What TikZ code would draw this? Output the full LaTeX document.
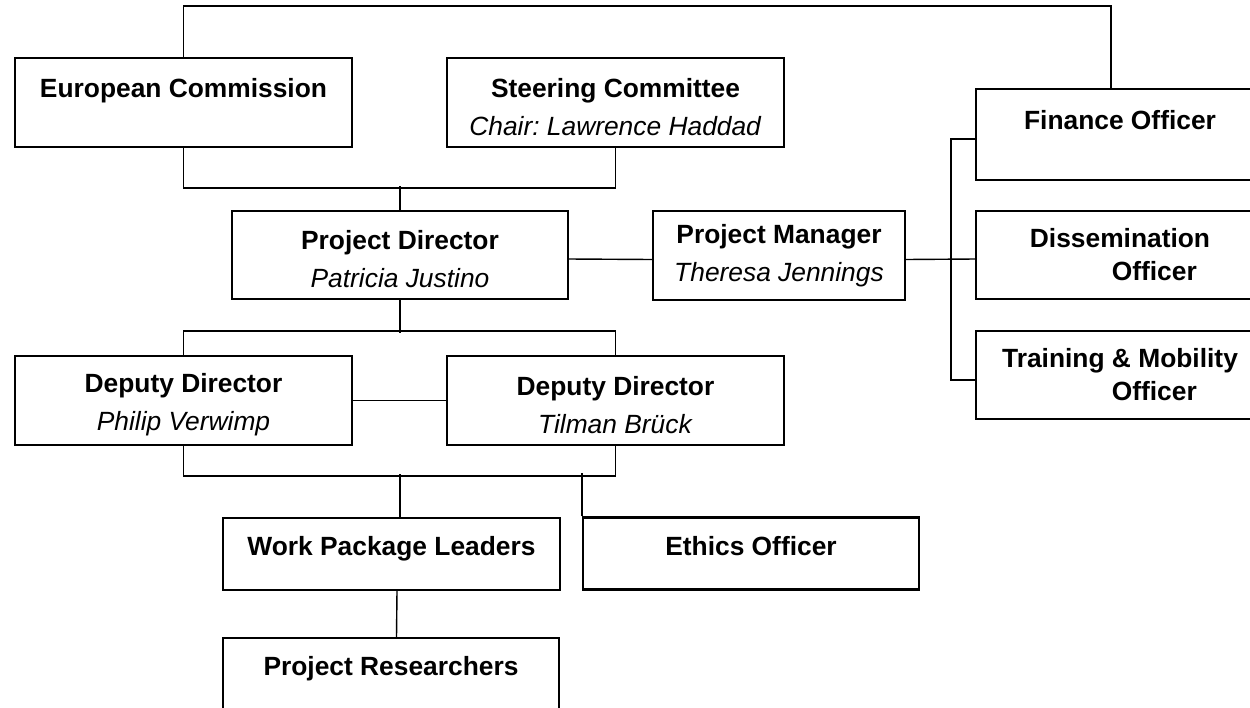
\documentclass[tikz,border=0pt]{standalone}
\usepackage{fontspec}
\setmainfont{Liberation Sans}
\usepackage{tikz}
\definecolor{ink}{HTML}{000000}
\usetikzlibrary{positioning,calc}
\newcommand{\rolename}[1]{\textbf{#1}}
\newcommand{\person}[1]{\textit{#1}}
\newcommand{\padtop}{\rule{0pt}{16pt}}
\tikzset{
  every picture/.style={line join=miter},
  every node/.style={font=\fontsize{15}{21.6}\selectfont\frenchspacing, text=ink},
  orgbox/.style={
    draw=ink,
    fill=white,
    line width=1.2pt,
    align=center,
    minimum width=6.74cm,
    minimum height=1.78cm,
    inner sep=2pt
  },
  orgboxlow/.style={orgbox, minimum height=1.44cm, text height=11pt, text depth=9.3pt},
  sidebox/.style={orgbox, minimum width=5.76cm, font=\fontsize{15}{18.7}\selectfont\frenchspacing},
  link/.style={draw=ink, line width=0.8pt}
}
\begin{document}
\begin{tikzpicture}
  \useasboundingbox (0,0) rectangle (25,-14.14);

  % top level
  \node[orgbox] (ec) at (3.67,-2.05) {\padtop\rolename{European Commission}\\\phantom{X}};
  \node[orgbox] (sc) at (12.31,-2.05) {\padtop\rolename{Steering Committee}\\\person{Chair: Lawrence Haddad}};

  % direction and management
  \node[orgbox, minimum width=6.72cm, minimum height=1.76cm] (pd) at (8.0,-5.1) {\padtop\rolename{Project Director}\\\person{Patricia Justino}};
  \node[orgbox, minimum width=5.04cm] (pm) at (15.58,-5.11) {\rolename{Project Manager}\\\person{Theresa Jennings}};

  % officers on the right
  \node[sidebox, minimum height=1.82cm, font=\fontsize{15}{21.6}\selectfont] (fo) at (22.4,-2.69) {\padtop\rolename{Finance Officer}\\\phantom{X}};
  \node[sidebox, minimum height=1.76cm] (do) at (22.4,-5.1) {\rolename{Dissemination}\\\rolename{\hspace*{2.6em}Officer}};
  \node[sidebox, minimum height=1.76cm] (to) at (22.4,-7.5) {\rolename{Training \& Mobility}\\\rolename{\hspace*{2.6em}Officer}};

  % deputies
  \node[orgbox] (dda) at (3.67,-8.01) {\padtop\rolename{Deputy Director}\\\person{Philip Verwimp}};
  \node[orgbox] (ddb) at (12.31,-8.01) {\padtop\rolename{Deputy Director}\\\person{Tilman Brück}};

  % lower levels
  \node[orgboxlow] (wpl) at (7.83,-11.08) {\rolename{Work Package Leaders}};
  \node[orgboxlow, minimum width=6.72cm] (eo) at (15.02,-11.07) {\rolename{Ethics Officer}};
  \node[orgboxlow, minimum width=6.72cm] (pr) at (7.82,-13.48) {\rolename{Project Researchers}};

  % connectors
  \draw[link] (ec.north) -- ++(0,1.02) -| ([xshift=-0.18cm]fo.north);
  \draw[link] (ec.south) -- ++(0,-0.8) -| (sc.south);
  \draw[link] (pd.north) -- ++(0,0.48);
  \draw[link] ([yshift=-0.08cm]pd.east) -- ([yshift=-0.08cm]pm.west);
  \draw[link] ([yshift=-0.08cm]pm.east) -- ([yshift=-0.08cm]do.west);
  \draw[link] ([yshift=-0.09cm]fo.west) -- ++(-0.48,0) |- ([yshift=-0.1cm]to.west);
  \draw[link] (pd.south) -- ++(0,-0.66);
  \draw[link] (dda.north) -- ++(0,0.48) -| (ddb.north);
  \draw[link] (dda) -- (ddb);
  \draw[link] (dda.south) -- ++(0,-0.6) -| (ddb.south);
  \draw[link] ([xshift=0.17cm]wpl.north) -- ++(0,0.86);
  \draw[link] (eo.north west) -- ++(0,0.86);
  \draw[link] ([xshift=0.11cm]wpl.south) -- ([xshift=0.11cm]pr.north);
\end{tikzpicture}
\end{document}
